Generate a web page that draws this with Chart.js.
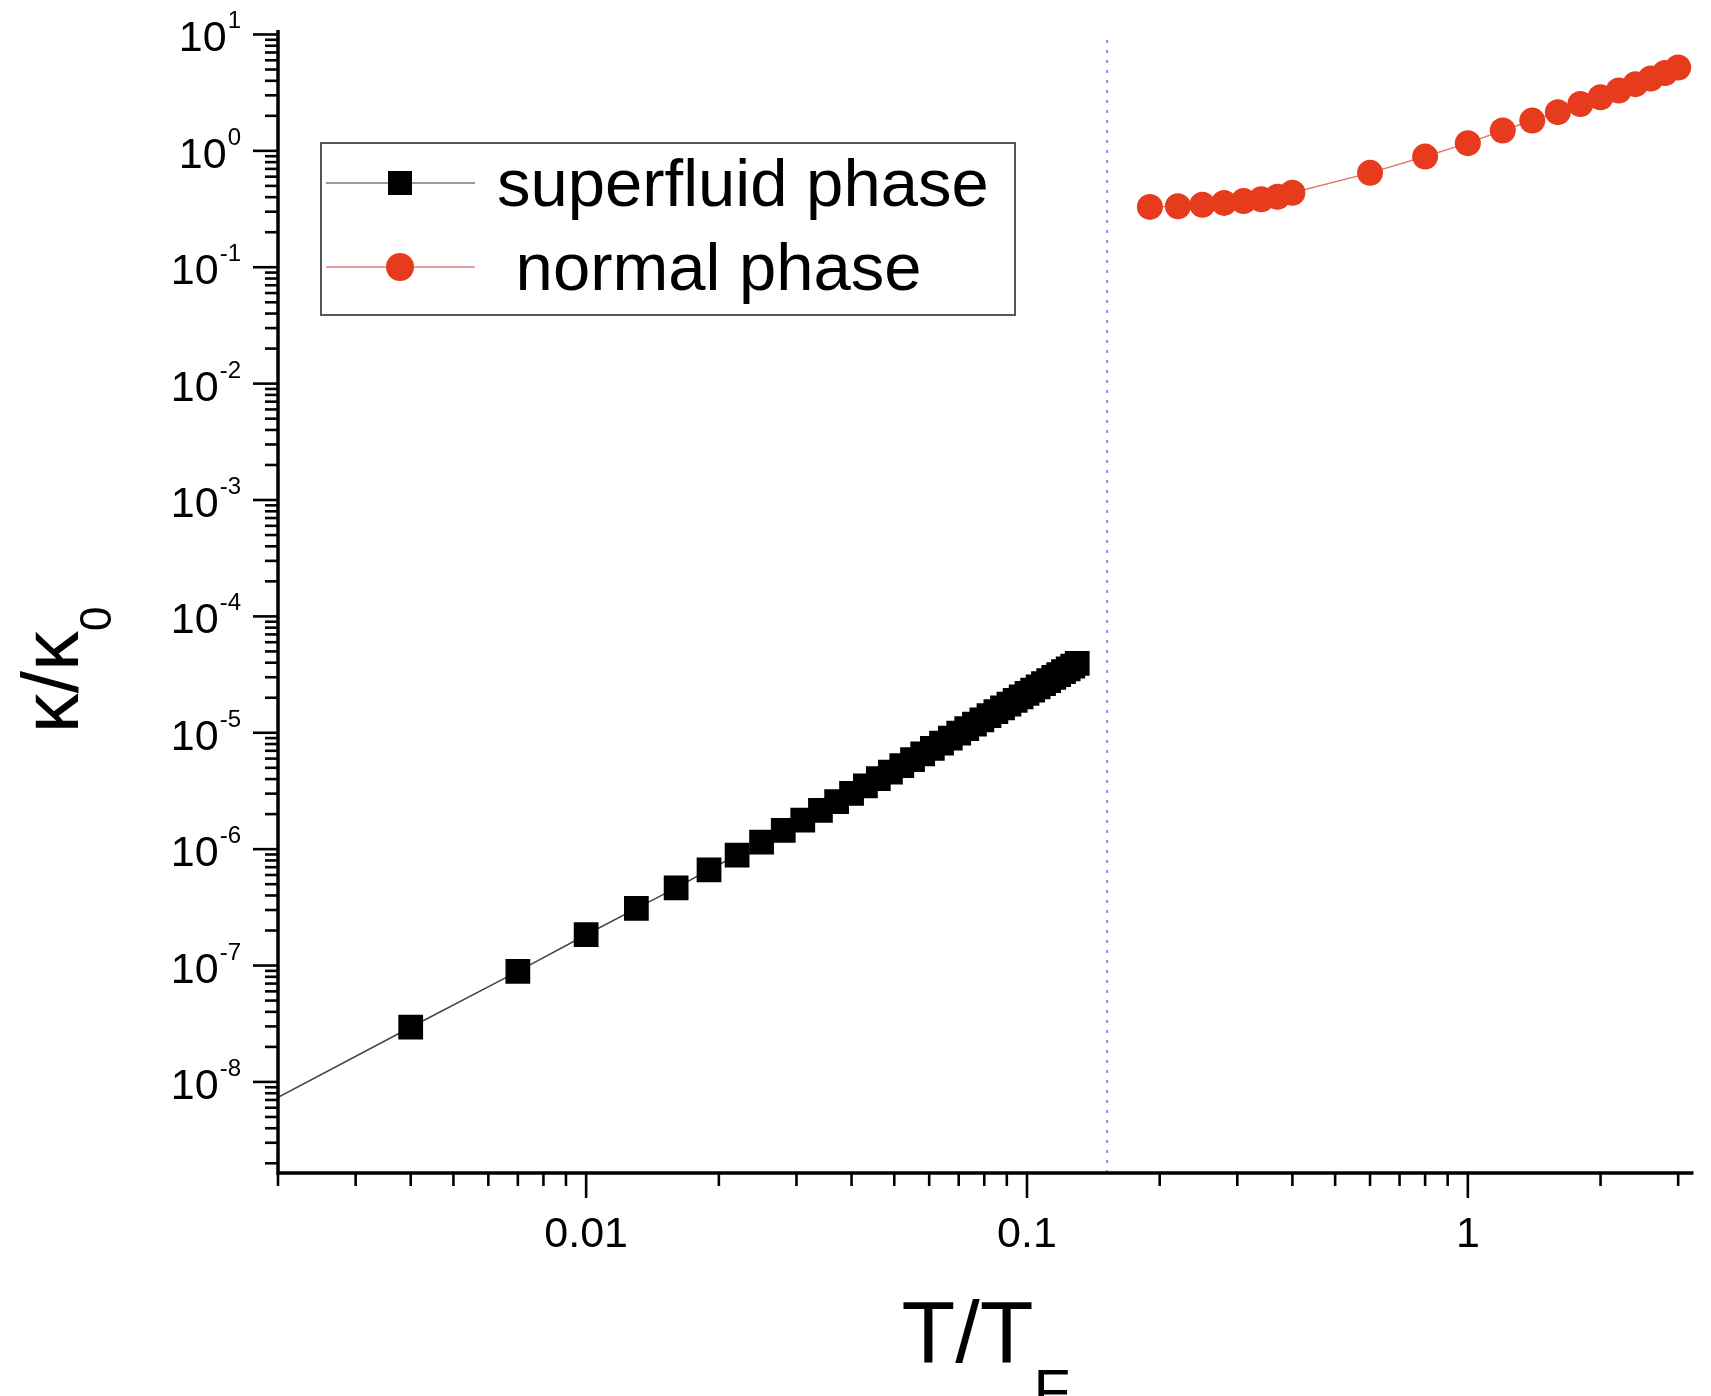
<!DOCTYPE html>
<html>
<head>
<meta charset="utf-8">
<script src="https://cdn.jsdelivr.net/npm/chart.js@4/dist/chart.umd.min.js"></script>
<style>
  html, body { margin: 0; background: #fff; }
  #wrap { width: 1711px; height: 1396px; position: relative; }
</style>
</head>
<body>
<div id="wrap"><canvas id="chart"></canvas></div>
<script>
// superfluid phase (black squares)
const superT = [0.001, 0.004, 0.007, 0.010, 0.013, 0.016, 0.019, 0.022, 0.025, 0.028,
  0.031, 0.034, 0.037, 0.040, 0.043, 0.046, 0.049, 0.052, 0.055, 0.058,
  0.061, 0.064, 0.067, 0.070, 0.073, 0.076, 0.079, 0.082, 0.085, 0.088,
  0.091, 0.094, 0.097, 0.100, 0.103, 0.106, 0.109, 0.112, 0.115, 0.118,
  0.121, 0.124, 0.127, 0.130];
const superK = [1.84e-9, 2.95e-8, 8.9e-8, 1.84e-7, 3.1e-7, 4.65e-7, 6.65e-7, 8.9e-7, 1.15e-6, 1.45e-6,
  1.78e-6, 2.15e-6, 2.56e-6, 3.01e-6, 3.50e-6, 4.03e-6, 4.60e-6, 5.22e-6, 5.89e-6, 6.60e-6,
  7.35e-6, 8.16e-6, 9.01e-6, 9.91e-6, 1.086e-5, 1.186e-5, 1.291e-5, 1.402e-5, 1.517e-5, 1.639e-5,
  1.766e-5, 1.898e-5, 2.036e-5, 2.179e-5, 2.328e-5, 2.484e-5, 2.645e-5, 2.812e-5, 2.986e-5, 3.166e-5,
  3.351e-5, 3.543e-5, 3.741e-5, 3.946e-5];

// normal phase (red circles)
const normalT = [0.19, 0.22, 0.25, 0.28, 0.31, 0.34, 0.37, 0.40, 0.6, 0.8,
  1.0, 1.2, 1.4, 1.6, 1.8, 2.0, 2.2, 2.4, 2.6, 2.8, 3.0];
const normalK = [0.330, 0.334, 0.344, 0.357, 0.370, 0.383, 0.403, 0.436, 0.647, 0.893,
  1.165, 1.494, 1.82, 2.15, 2.53, 2.89, 3.30, 3.74, 4.18, 4.66, 5.2];

// transition temperature (dotted line)
const tcT = 0.152;

// axes
const xMin = 0.002, xMax = 3.25;
const yMin = 1.65e-9, yMax = 10.5;
const xTickValues = [0.01, 0.1, 1];
const xTickLabels = ['0.01', '0.1', '1'];
const yTickExps = [1, 0, -1, -2, -3, -4, -5, -6, -7, -8];
const yTickLabels = ['1', '0', '-1', '-2', '-3', '-4', '-5', '-6', '-7', '-8'];

const FONT = '"Liberation Sans", Arial, Helvetica, sans-serif';
const RED = '#e63b1c';

const originAxes = {
  id: 'originAxes',
  afterDraw(chart) {
    const { ctx, chartArea: a, scales: { x, y } } = chart;
    ctx.save();
    ctx.strokeStyle = '#000';
    ctx.fillStyle = '#000';

    // axis lines
    ctx.lineWidth = 3.5;
    ctx.beginPath();
    ctx.moveTo(a.left, a.top - 2);
    ctx.lineTo(a.left, a.bottom);
    ctx.lineTo(a.right, a.bottom);
    ctx.stroke();

    // ticks, major 1x10^n long, minor 2..9 short
    ctx.lineWidth = 2.6;
    for (let e = -10; e <= 1; e++) {
      for (let m = 1; m <= 9; m++) {
        const v = m * Math.pow(10, e);
        if (v >= yMin * 0.999 && v <= yMax) {
          const py = y.getPixelForValue(v);
          ctx.beginPath();
          ctx.moveTo(a.left, py);
          ctx.lineTo(a.left - (m === 1 ? 25 : 13), py);
          ctx.stroke();
        }
        if (v >= xMin * 0.999 && v <= xMax) {
          const px = x.getPixelForValue(v);
          ctx.beginPath();
          ctx.moveTo(px, a.bottom);
          ctx.lineTo(px, a.bottom + (m === 1 ? 25 : 13));
          ctx.stroke();
        }
      }
    }

    // x tick labels
    ctx.font = '43px ' + FONT;
    ctx.textAlign = 'center';
    ctx.textBaseline = 'alphabetic';
    xTickValues.forEach((v, i) => {
      ctx.fillText(xTickLabels[i], x.getPixelForValue(v), 1247);
    });

    // y tick labels: 10 with superscript exponent
    ctx.textAlign = 'right';
    yTickExps.forEach((e, i) => {
      const py = y.getPixelForValue(Math.pow(10, e));
      ctx.font = '24px ' + FONT;
      const sw = ctx.measureText(yTickLabels[i]).width;
      ctx.fillText(yTickLabels[i], 241, py - 6);
      ctx.font = '43px ' + FONT;
      ctx.fillText('10', 241 - sw - 1, py + 17);
    });

    // x axis title T/T_F
    ctx.textAlign = 'left';
    ctx.font = '88px ' + FONT;
    const wT = ctx.measureText('T/T').width;
    ctx.font = '60px ' + FONT;
    const wF = ctx.measureText('F').width;
    const x0 = (a.left + a.right) / 2 - (wT + wF) / 2;
    ctx.font = '88px ' + FONT;
    ctx.fillText('T/T', x0, 1362);
    ctx.font = '60px ' + FONT;
    ctx.fillText('F', x0 + wT, 1411);

    // y axis title kappa/kappa_0
    ctx.save();
    ctx.translate(78, 670);
    ctx.rotate(-Math.PI / 2);
    ctx.font = '80px ' + FONT;
    const wK = ctx.measureText('κ/κ').width;
    ctx.font = '44px ' + FONT;
    const w0 = ctx.measureText('0').width;
    const s0 = -(wK + w0) / 2;
    ctx.font = '80px ' + FONT;
    ctx.fillText('κ/κ', s0, 0);
    ctx.font = '44px ' + FONT;
    ctx.fillText('0', s0 + wK, 33);
    ctx.restore();

    // legend
    ctx.lineWidth = 2;
    ctx.strokeStyle = '#555';
    ctx.strokeRect(321, 143, 694, 172);

    ctx.lineWidth = 2;
    ctx.strokeStyle = '#999';
    ctx.beginPath(); ctx.moveTo(326, 183); ctx.lineTo(475, 183); ctx.stroke();
    ctx.fillStyle = '#000';
    ctx.fillRect(400 - 12, 183 - 12, 24, 24);

    ctx.strokeStyle = '#e6a0a0';
    ctx.beginPath(); ctx.moveTo(326, 267); ctx.lineTo(475, 267); ctx.stroke();
    ctx.fillStyle = RED;
    ctx.beginPath(); ctx.arc(400, 267, 14, 0, Math.PI * 2); ctx.fill();

    ctx.fillStyle = '#000';
    ctx.font = '67px ' + FONT;
    ctx.textAlign = 'left';
    ctx.fillText('superfluid phase', 497, 206);
    ctx.fillText(' normal phase', 497, 290);

    ctx.restore();
  }
};

const ctx = document.getElementById('chart').getContext('2d');
new Chart(ctx, {
  type: 'scatter',
  data: {
    datasets: [
      {
        label: 'superfluid phase',
        data: superT.map((t, i) => ({ x: t, y: superK[i] })),
        showLine: true,
        borderColor: '#444',
        borderWidth: 1.5,
        pointStyle: 'rect',
        pointRadius: 17.5,
        pointHoverRadius: 17.5,
        pointBackgroundColor: '#000',
        pointBorderColor: '#000',
        pointBorderWidth: 0
      },
      {
        label: 'normal phase',
        data: normalT.map((t, i) => ({ x: t, y: normalK[i] })),
        showLine: true,
        borderColor: '#e07a6a',
        borderWidth: 1.5,
        pointStyle: 'circle',
        pointRadius: 13,
        pointHoverRadius: 13,
        pointBackgroundColor: RED,
        pointBorderColor: RED,
        pointBorderWidth: 0
      },
      {
        label: 'Tc',
        data: [{ x: tcT, y: yMin }, { x: tcT, y: 9.3 }],
        showLine: true,
        borderColor: 'rgba(110,110,230,0.8)',
        borderWidth: 2,
        borderDash: [3, 7],
        pointRadius: 0
      }
    ]
  },
  options: {
    responsive: true,
    maintainAspectRatio: false,
    animation: false,
    events: [],
    layout: { padding: { top: 32, right: 17, left: 0, bottom: 0 } },
    plugins: { legend: { display: false }, tooltip: { enabled: false } },
    scales: {
      x: {
        type: 'logarithmic', min: xMin, max: xMax,
        ticks: { display: false }, grid: { display: false }, border: { display: false },
        afterFit(s) { s.height = 223; }
      },
      y: {
        type: 'logarithmic', min: yMin, max: yMax,
        ticks: { display: false }, grid: { display: false }, border: { display: false },
        afterFit(s) { s.width = 278; }
      }
    }
  },
  plugins: [originAxes]
});
</script>
</body>
</html>
